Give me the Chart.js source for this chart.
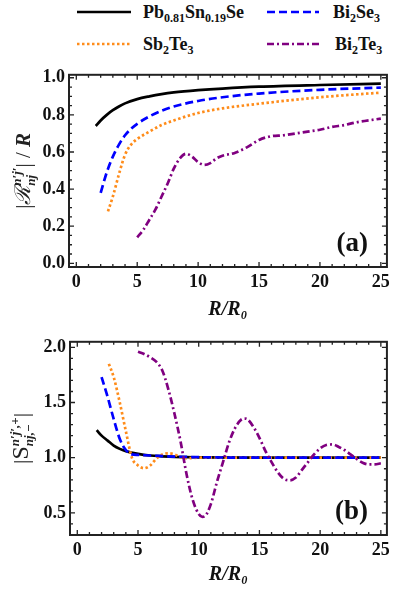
<!DOCTYPE html>
<html>
<head>
<meta charset="utf-8">
<script src="https://cdn.jsdelivr.net/npm/chart.js@4.4.1/dist/chart.umd.min.js"></script>
<style>
  body { margin: 0; width: 395px; height: 590px; background: #fff; position: relative; overflow: hidden; }
  .leg { position: absolute; font-family: "Liberation Serif", serif; font-weight: bold; font-size: 18px; line-height: 18px; color: #111; white-space: nowrap; }
  .leg sub { font-size: 12px; line-height: 0; vertical-align: -4px; }
  .sample { position: absolute; }
  canvas { position: absolute; left: 0; }
</style>
</head>
<body>
<!-- legend -->
<svg class="sample" style="left:77px;top:3px" width="54" height="18"><line x1="0" y1="9" x2="54" y2="9" stroke="#000" stroke-width="2.5"/></svg>
<div class="leg" style="left:143px;top:3px">Pb<sub>0.81</sub>Sn<sub>0.19</sub>Se</div>
<svg class="sample" style="left:267px;top:3px" width="52" height="18"><line x1="0" y1="9" x2="52" y2="9" stroke="#0000ff" stroke-width="2.5" stroke-dasharray="8 4"/></svg>
<div class="leg" style="left:333px;top:3px">Bi<sub>2</sub>Se<sub>3</sub></div>
<svg class="sample" style="left:77px;top:35px" width="54" height="18"><line x1="0" y1="9" x2="54" y2="9" stroke="#ff8c1a" stroke-width="2.5" stroke-dasharray="2.5 2.5"/></svg>
<div class="leg" style="left:143px;top:35px">Sb<sub>2</sub>Te<sub>3</sub></div>
<svg class="sample" style="left:267px;top:35px" width="54" height="18"><line x1="0" y1="9" x2="54" y2="9" stroke="#800080" stroke-width="2.5" stroke-dasharray="7 3 2 3"/></svg>
<div class="leg" style="left:335px;top:35px">Bi<sub>2</sub>Te<sub>3</sub></div>

<canvas id="chartA" width="395" height="265" style="top:60px"></canvas>
<canvas id="chartB" width="395" height="263" style="top:327px"></canvas>

<script>
// tick labels
const xTicks = [0, 5, 10, 15, 20, 25];
const yTicksA = [0.0, 0.2, 0.4, 0.6, 0.8, 1.0];
const yTicksB = [0.5, 1.0, 1.5, 2.0];

// panel (a): |R| / R
const pbXa = [1.6, 2, 2.5, 3, 3.5, 4, 5, 6, 7, 8, 10, 12, 15, 20, 25];
const pbYa = [0.74, 0.77, 0.80, 0.825, 0.845, 0.862, 0.885, 0.90, 0.912, 0.921, 0.933, 0.942, 0.952, 0.961, 0.968];
const bseXa = [2, 2.5, 3, 3.5, 4, 4.5, 5, 6, 7, 8, 10, 12, 15, 20, 25];
const bseYa = [0.38, 0.49, 0.575, 0.64, 0.69, 0.725, 0.752, 0.792, 0.822, 0.845, 0.875, 0.895, 0.915, 0.935, 0.947];
const steXa = [2.6, 3, 3.5, 4, 4.5, 5, 6, 7, 8, 10, 12, 15, 20, 25];
const steYa = [0.28, 0.36, 0.48, 0.585, 0.64, 0.67, 0.71, 0.745, 0.77, 0.81, 0.835, 0.86, 0.895, 0.92];
const bteXa = [5, 5.5, 6, 6.5, 7, 7.5, 8, 8.5, 9, 9.5, 10, 10.5, 11, 11.5, 12, 13, 14, 15, 16, 17, 18, 19, 20, 21, 22, 23, 24, 25];
const bteYa = [0.14, 0.18, 0.235, 0.29, 0.36, 0.43, 0.51, 0.565, 0.59, 0.575, 0.545, 0.53, 0.54, 0.565, 0.58, 0.595, 0.625, 0.665, 0.685, 0.69, 0.70, 0.71, 0.72, 0.735, 0.745, 0.76, 0.77, 0.78];

// panel (b): |S|
const pbXb = [1.6, 2, 2.5, 3, 3.5, 4, 5, 6, 7, 8, 10, 15, 20, 25];
const pbYb = [1.25, 1.2, 1.155, 1.11, 1.08, 1.06, 1.035, 1.02, 1.013, 1.008, 1.004, 1.0, 1.0, 1.0];
const bseXb = [2, 2.5, 3, 3.5, 4, 4.5, 5, 6, 8, 10, 15, 20, 25];
const bseYb = [1.73, 1.55, 1.35, 1.17, 1.07, 1.03, 1.025, 1.02, 1.01, 1.005, 1.0, 1.0, 1.0];
const steXb = [2.6, 3, 3.5, 4, 4.5, 5, 5.5, 6, 6.5, 7, 7.5, 8, 8.5, 9, 9.5, 10, 15, 20, 25];
const steYb = [1.85, 1.73, 1.50, 1.24, 1.0, 0.93, 0.905, 0.93, 0.99, 1.03, 1.04, 1.03, 1.005, 0.995, 0.998, 1.0, 1.0, 1.0, 1.0];
const bteXb = [5, 5.5, 6, 6.5, 7, 7.5, 8, 8.5, 9, 9.5, 10, 10.3, 10.5, 11, 11.5, 12, 12.5, 13, 13.5, 13.8, 14, 14.5, 15, 15.5, 16, 16.5, 17, 17.5, 18, 18.5, 19, 19.5, 20, 20.5, 21, 21.5, 22, 22.5, 23, 23.5, 24, 24.5, 25];
const bteYb = [1.96, 1.94, 1.91, 1.87, 1.79, 1.62, 1.40, 1.15, 0.85, 0.62, 0.49, 0.465, 0.47, 0.58, 0.78, 0.96, 1.14, 1.27, 1.345, 1.355, 1.35, 1.28, 1.18, 1.06, 0.96, 0.87, 0.81, 0.795, 0.82, 0.89, 0.96, 1.03, 1.085, 1.115, 1.12, 1.10, 1.07, 1.03, 0.99, 0.955, 0.94, 0.94, 0.95];

const serif = '"Liberation Serif", "Times New Roman", serif';

function lineSet(label, xs, ys, color, dash, order) {
  return {
    label: label,
    data: xs.map((x, i) => ({ x: x, y: ys[i] })),
    borderColor: color,
    borderWidth: 2.7,
    borderDash: dash,
    pointRadius: 0,
    cubicInterpolationMode: 'monotone',
    fill: false,
    order: order
  };
}

// frame with inward ticks on all four sides
const framePlugin = {
  id: 'frame',
  afterDatasetsDraw(chart, args, opts) {
    const ctx = chart.ctx, a = chart.chartArea;
    const x = chart.scales.x, y = chart.scales.y;
    ctx.save();
    ctx.strokeStyle = '#222';
    ctx.lineWidth = 1.3;
    function marks(scale, minor, major, horiz) {
      const i0 = Math.ceil(scale.min / minor), i1 = Math.floor(scale.max / minor);
      for (let i = i0; i <= i1; i++) {
        const v = i * minor;
        const isMajor = Math.abs(v / major - Math.round(v / major)) < 1e-6;
        const len = isMajor ? 5 : 3;
        const p = scale.getPixelForValue(v);
        ctx.beginPath();
        if (horiz) {
          ctx.moveTo(p, a.bottom); ctx.lineTo(p, a.bottom - len);
          ctx.moveTo(p, a.top); ctx.lineTo(p, a.top + len);
        } else {
          ctx.moveTo(a.left, p); ctx.lineTo(a.left + len, p);
          ctx.moveTo(a.right, p); ctx.lineTo(a.right - len, p);
        }
        ctx.stroke();
      }
    }
    marks(x, 1, 5, true);
    marks(y, opts.yMinor, opts.yMajor, false);
    ctx.lineWidth = 2;
    ctx.strokeRect(a.left, a.top, a.width, a.height);
    ctx.restore();
  }
};

// y title with stacked super/subscripts
const yTitlePlugin = {
  id: 'ytitle',
  afterDraw(chart, args, opts) {
    const ctx = chart.ctx, a = chart.chartArea;
    const parts = opts.parts;
    ctx.save();
    let w = 0;
    parts.forEach(p => {
      ctx.font = p.font;
      if (p.sup !== undefined) {
        p.w = Math.max(ctx.measureText(p.sup).width, ctx.measureText(p.sub).width);
      } else {
        p.w = ctx.measureText(p.text).width;
      }
      w += p.w;
    });
    ctx.translate(opts.x, (a.top + a.bottom) / 2);
    ctx.rotate(-Math.PI / 2);
    ctx.fillStyle = '#222';
    ctx.textBaseline = 'alphabetic';
    let cx = -w / 2;
    parts.forEach(p => {
      ctx.font = p.font;
      if (p.sup !== undefined) {
        ctx.fillText(p.sup, cx, opts.base - 9);
        ctx.fillText(p.sub, cx, opts.base + 5);
      } else {
        ctx.fillText(p.text, cx, opts.base);
      }
      cx += p.w;
    });
    ctx.restore();
  }
};

const panelPlugin = {
  id: 'panel',
  afterDraw(chart, args, opts) {
    const ctx = chart.ctx, a = chart.chartArea;
    ctx.save();
    ctx.font = 'bold 27px ' + serif;
    ctx.fillStyle = '#111';
    ctx.textAlign = 'right';
    ctx.textBaseline = 'middle';
    ctx.fillText(opts.text, a.right - 19, a.bottom - 23);
    ctx.restore();
  }
};

function makeChart(id, datasets, cfg) {
  const tickFont = { family: serif, weight: 'bold', size: 18 };
  return new Chart(document.getElementById(id), {
    type: 'line',
    data: { datasets: datasets },
    options: {
      responsive: false,
      animation: false,
      layout: { padding: { top: 12, right: 8, left: 0, bottom: 0 } },
      plugins: {
        legend: { display: false },
        tooltip: { enabled: false },
        frame: { yMinor: cfg.yMinor, yMajor: cfg.yMajor },
        ytitle: { parts: cfg.title, x: cfg.titleX, base: 7 },
        panel: { text: cfg.panel }
      },
      scales: {
        x: {
          type: 'linear',
          min: -0.6,
          max: 25.5,
          afterBuildTicks: s => { s.ticks = xTicks.map(v => ({ value: v })); },
          afterFit: s => { s.height = cfg.xHeight; },
          grid: { display: false, drawTicks: false },
          border: { display: false },
          ticks: { padding: 5, color: '#111', font: tickFont, maxRotation: 0 },
          title: {
            display: true,
            text: 'R/R₀',
            color: '#111',
            font: { family: serif, weight: 'bold', style: 'italic', size: 20 },
            padding: { top: 0, bottom: 3 }
          }
        },
        y: {
          type: 'linear',
          min: cfg.yMin,
          max: cfg.yMax,
          afterBuildTicks: s => { s.ticks = cfg.yTicks.map(v => ({ value: v })); },
          afterFit: s => { s.width = cfg.yWidth; },
          grid: { display: false, drawTicks: false },
          border: { display: false },
          ticks: { padding: 4, color: '#111', font: tickFont, callback: v => v.toFixed(1) }
        }
      }
    },
    plugins: [framePlugin, yTitlePlugin, panelPlugin]
  });
}

const supFont = 'bold italic 13px ' + serif;

makeChart('chartA', [
  lineSet('Pb0.81Sn0.19Se', pbXa, pbYa, '#000000', [], 2),
  lineSet('Bi2Se3', bseXa, bseYa, '#0000ff', [8, 4], 0),
  lineSet('Sb2Te3', steXa, steYa, '#ff8c1a', [2.5, 2.5], 1),
  lineSet('Bi2Te3', bteXa, bteYa, '#800080', [7, 3, 2, 3], -1)
], {
  yMin: -0.02, yMax: 1.016, yTicks: yTicksA, yMinor: 0.05, yMajor: 0.2,
  yWidth: 69, xHeight: 58, titleX: 23, panel: '(a)',
  title: [
    { text: '|', font: '21px ' + serif },
    { text: 'ℛ', font: 'italic 22px "DejaVu Serif", serif' },
    { sup: 'n′j′', sub: 'nj', font: supFont },
    { text: '| / ', font: '21px ' + serif },
    { text: 'R', font: 'bold italic 21px ' + serif }
  ]
});

makeChart('chartB', [
  lineSet('Pb0.81Sn0.19Se', pbXb, pbYb, '#000000', [], 2),
  lineSet('Bi2Se3', bseXb, bseYb, '#0000ff', [8, 4], 0),
  lineSet('Sb2Te3', steXb, steYb, '#ff8c1a', [2.5, 2.5], 1),
  lineSet('Bi2Te3', bteXb, bteYb, '#800080', [7, 3, 2, 3], -1)
], {
  yMin: 0.3, yMax: 2.05, yTicks: yTicksB, yMinor: 0.1, yMajor: 0.5,
  yWidth: 70, xHeight: 55, titleX: 21, panel: '(b)',
  title: [
    { text: '|', font: '22px ' + serif },
    { text: 'S', font: '24px ' + serif },
    { sup: 'n′j′,+', sub: 'nj,−', font: supFont },
    { text: '|', font: '22px ' + serif }
  ]
});
</script>
</body>
</html>
